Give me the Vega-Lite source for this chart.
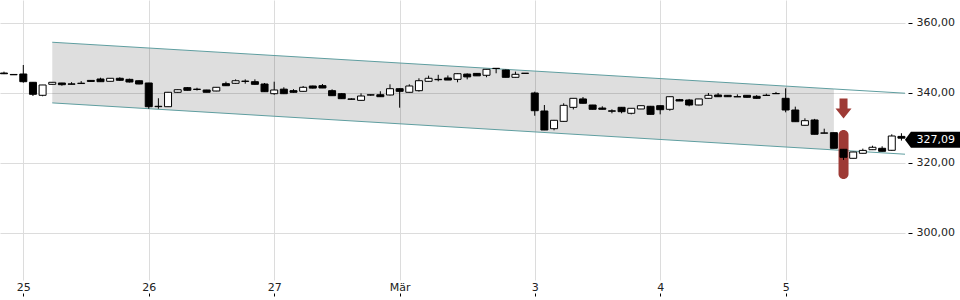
{
  "$schema": "https://vega.github.io/schema/vega-lite/v6.json",
  "width": 905,
  "height": 280,
  "autosize": {"type": "none"},
  "padding": {"left": 0, "top": 0, "right": 55, "bottom": 20},
  "config": {"view": {"stroke": null}, "font": "DejaVu Sans"},
  "datasets": {
    "candles": [
      {"i":0,"o":345.7,"h":346.1,"l":345.4,"c":345.5},
      {"i":1,"o":345.3,"h":345.4,"l":345.2,"c":345.2},
      {"i":2,"o":345.43,"h":348.0,"l":342.94,"c":343.23},
      {"i":3,"o":343.06,"h":343.14,"l":339.14,"c":339.63},
      {"i":4,"o":339.34,"h":342.3,"l":339.06,"c":342.29},
      {"i":5,"o":342.48,"h":343.1,"l":342.4,"c":343.06},
      {"i":6,"o":342.86,"h":342.9,"l":342.08,"c":342.37},
      {"i":7,"o":342.6,"h":343.1,"l":342.5,"c":342.5},
      {"i":8,"o":342.7,"h":343.4,"l":342.7,"c":342.8},
      {"i":9,"o":343.6,"h":343.6,"l":343.2,"c":343.3},
      {"i":10,"o":344.0,"h":344.37,"l":343.2,"c":343.23},
      {"i":11,"o":343.34,"h":344.2,"l":343.3,"c":344.2},
      {"i":12,"o":344.2,"h":344.48,"l":343.43,"c":343.63},
      {"i":13,"o":343.9,"h":344.1,"l":343.0,"c":343.14},
      {"i":14,"o":343.5,"h":343.6,"l":342.5,"c":342.57},
      {"i":15,"o":342.86,"h":342.9,"l":335.5,"c":336.08},
      {"i":16,"o":336.1,"h":338.5,"l":335.5,"c":336.2},
      {"i":17,"o":336.08,"h":340.3,"l":336.0,"c":340.2},
      {"i":18,"o":340.2,"h":341.0,"l":340.1,"c":340.94},
      {"i":19,"o":341.52,"h":341.7,"l":340.7,"c":340.77},
      {"i":20,"o":341.0,"h":341.5,"l":340.7,"c":341.1},
      {"i":21,"o":340.86,"h":340.9,"l":340.2,"c":340.2},
      {"i":22,"o":340.57,"h":341.7,"l":340.5,"c":341.63},
      {"i":23,"o":342.66,"h":343.23,"l":342.0,"c":342.08},
      {"i":24,"o":342.77,"h":343.9,"l":342.6,"c":343.5},
      {"i":25,"o":343.3,"h":343.9,"l":342.66,"c":343.4},
      {"i":26,"o":343.23,"h":343.9,"l":342.4,"c":342.48},
      {"i":27,"o":342.57,"h":342.86,"l":340.3,"c":340.37},
      {"i":28,"o":339.8,"h":343.23,"l":339.5,"c":340.86},
      {"i":29,"o":341.1,"h":341.63,"l":339.7,"c":339.8},
      {"i":30,"o":340.66,"h":341.1,"l":340.1,"c":340.2},
      {"i":31,"o":340.48,"h":342.0,"l":340.4,"c":341.63},
      {"i":32,"o":342.0,"h":342.1,"l":341.3,"c":341.4},
      {"i":33,"o":342.1,"h":342.57,"l":341.4,"c":341.43},
      {"i":34,"o":340.66,"h":341.05,"l":339.2,"c":339.23},
      {"i":35,"o":339.8,"h":340.0,"l":338.3,"c":338.37},
      {"i":36,"o":338.3,"h":338.5,"l":338.1,"c":338.2},
      {"i":37,"o":337.9,"h":339.9,"l":337.8,"c":339.14},
      {"i":38,"o":339.4,"h":339.6,"l":339.2,"c":339.5},
      {"i":39,"o":339.5,"h":340.5,"l":338.9,"c":338.94},
      {"i":40,"o":339.43,"h":342.48,"l":339.3,"c":341.23},
      {"i":41,"o":341.23,"h":341.3,"l":335.8,"c":340.48},
      {"i":42,"o":340.2,"h":342.48,"l":340.1,"c":342.0},
      {"i":43,"o":340.66,"h":344.2,"l":340.4,"c":343.51},
      {"i":44,"o":343.34,"h":344.95,"l":343.3,"c":344.2},
      {"i":45,"o":343.8,"h":345.2,"l":343.34,"c":343.9},
      {"i":46,"o":344.29,"h":345.0,"l":343.7,"c":343.7},
      {"i":47,"o":343.9,"h":345.6,"l":343.06,"c":345.51},
      {"i":48,"o":345.4,"h":345.6,"l":343.9,"c":344.6},
      {"i":49,"o":345.6,"h":345.7,"l":344.9,"c":344.9},
      {"i":50,"o":345.06,"h":346.8,"l":344.5,"c":346.77},
      {"i":51,"o":347.0,"h":347.05,"l":345.63,"c":347.05},
      {"i":52,"o":346.57,"h":346.7,"l":344.48,"c":344.48},
      {"i":53,"o":344.48,"h":346.1,"l":344.4,"c":345.34},
      {"i":54,"o":345.6,"h":345.7,"l":345.6,"c":345.65},
      {"i":55,"o":340.0,"h":340.37,"l":333.5,"c":334.94},
      {"i":56,"o":334.86,"h":336.57,"l":329.4,"c":329.43},
      {"i":57,"o":329.8,"h":332.3,"l":329.34,"c":332.2},
      {"i":58,"o":331.9,"h":337.06,"l":331.8,"c":336.48},
      {"i":59,"o":335.9,"h":338.5,"l":335.3,"c":338.48},
      {"i":60,"o":338.3,"h":338.86,"l":337.0,"c":337.06},
      {"i":61,"o":336.57,"h":336.6,"l":335.3,"c":335.34},
      {"i":62,"o":335.7,"h":336.2,"l":335.3,"c":335.34},
      {"i":63,"o":334.9,"h":335.34,"l":334.2,"c":334.8},
      {"i":64,"o":335.91,"h":336.0,"l":334.2,"c":334.66},
      {"i":65,"o":334.2,"h":335.7,"l":333.9,"c":335.63},
      {"i":66,"o":335.43,"h":336.4,"l":335.4,"c":336.37},
      {"i":67,"o":336.2,"h":336.3,"l":333.9,"c":333.9},
      {"i":68,"o":336.37,"h":336.4,"l":333.9,"c":335.23},
      {"i":69,"o":335.34,"h":339.0,"l":334.94,"c":338.94},
      {"i":70,"o":338.1,"h":338.3,"l":337.7,"c":337.71},
      {"i":71,"o":338.0,"h":338.3,"l":336.2,"c":336.57},
      {"i":72,"o":336.57,"h":338.3,"l":336.5,"c":338.3},
      {"i":73,"o":338.48,"h":340.0,"l":338.4,"c":339.34},
      {"i":74,"o":339.43,"h":340.0,"l":338.9,"c":338.94},
      {"i":75,"o":339.34,"h":339.4,"l":338.9,"c":338.94},
      {"i":76,"o":338.9,"h":339.6,"l":338.9,"c":338.95},
      {"i":77,"o":339.34,"h":339.4,"l":338.7,"c":338.77},
      {"i":78,"o":339.05,"h":339.4,"l":338.4,"c":338.48},
      {"i":79,"o":339.3,"h":339.8,"l":339.3,"c":339.35},
      {"i":80,"o":339.8,"h":340.3,"l":339.8,"c":339.85},
      {"i":81,"o":338.48,"h":341.34,"l":334.48,"c":335.14},
      {"i":82,"o":335.14,"h":336.1,"l":331.8,"c":331.8},
      {"i":83,"o":330.77,"h":332.77,"l":330.7,"c":332.09},
      {"i":84,"o":332.29,"h":332.6,"l":328.2,"c":328.2},
      {"i":85,"o":328.5,"h":329.8,"l":328.5,"c":328.6},
      {"i":86,"o":328.66,"h":328.7,"l":324.2,"c":324.2},
      {"i":87,"o":323.91,"h":324.0,"l":320.86,"c":321.63},
      {"i":88,"o":321.34,"h":323.2,"l":321.3,"c":323.14},
      {"i":89,"o":322.77,"h":324.1,"l":322.7,"c":323.6},
      {"i":90,"o":323.8,"h":324.94,"l":323.7,"c":324.49},
      {"i":91,"o":324.2,"h":324.77,"l":323.3,"c":323.34},
      {"i":92,"o":323.63,"h":328.2,"l":323.5,"c":327.71},
      {"i":93,"o":327.6,"h":328.5,"l":326.4,"c":327.09}
    ],
    "channel": [
      {"i":5,"upper":354.5,"lower":337.17},
      {"i":86,"upper":341.15,"lower":323.74},
      {"i":93.37,"upper":339.94,"lower":322.51}
    ],
    "marker": [
      {"i":87,"top":329.4,"bottom":315.4,"arrow":335.6}
    ],
    "last": [
      {"i":93,"v":327.09,"label":"327,09"}
    ]
  },
  "encoding": {
    "x": {
      "field": "i",
      "type": "quantitative",
      "scale": {"domain": [-0.4145, 93.37], "nice": false, "zero": false, "padding": 0},
      "axis": {
        "values": [2, 15, 28, 41, 55, 68, 81],
        "labelExpr": "datum.value==2?'25':datum.value==15?'26':datum.value==28?'27':datum.value==41?'Mär':datum.value==55?'3':datum.value==68?'4':'5'",
        "title": null,
        "domain": false,
        "grid": true,
        "gridColor": "#dcdcdc",
        "offset": 13,
        "tickSize": 3,
        "tickColor": "#000",
        "labelPadding": -6,
        "labelBaseline": "alphabetic",
        "labelFontSize": 11,
        "labelColor": "#222",
        "labelFlush": false,
        "labelOverlap": false
      }
    }
  },
  "layer": [
    {
      "data": {"name": "channel"},
      "transform": [{"filter": "datum.i <= 86"}],
      "mark": {"type": "area", "color": "#000", "opacity": 0.13},
      "encoding": {
        "y": {
          "field": "upper", "type": "quantitative",
          "scale": {"domain": [286.57, 366.57], "nice": false, "zero": false},
          "axis": {
            "orient": "right",
            "values": [300, 320, 340, 360],
            "labelExpr": "replace(format(datum.value, '.2f'), '.', ',')",
            "title": null,
            "domain": false,
            "grid": true,
            "gridColor": "#dcdcdc",
            "offset": 3,
            "tickSize": 4,
            "tickColor": "#000",
            "labelPadding": 4,
            "labelFontSize": 11,
            "labelColor": "#222"
          }
        },
        "y2": {"field": "lower"}
      }
    },
    {
      "data": {"name": "channel"},
      "mark": {"type": "line", "color": "#5f9ea0", "strokeWidth": 1},
      "encoding": {
        "y": {"field": "upper", "type": "quantitative", "title": null}
      }
    },
    {
      "data": {"name": "channel"},
      "mark": {"type": "line", "color": "#5f9ea0", "strokeWidth": 1},
      "encoding": {
        "y": {"field": "lower", "type": "quantitative", "title": null}
      }
    },
    {
      "data": {"name": "marker"},
      "mark": {"type": "bar", "width": 10, "cornerRadius": 5, "color": "#9e3a35"},
      "encoding": {
        "y": {"field": "top", "type": "quantitative", "title": null},
        "y2": {"field": "bottom"}
      }
    },
    {
      "data": {"name": "marker"},
      "mark": {"type": "point", "shape": "M-0.4,-1L0.4,-1L0.4,0L0.8,0L0,1L-0.8,0L-0.4,0Z", "size": 400, "filled": true, "color": "#9e3a35", "opacity": 1},
      "encoding": {
        "y": {"field": "arrow", "type": "quantitative", "title": null}
      }
    },
    {
      "data": {"name": "candles"},
      "mark": {"type": "rule", "color": "#000", "strokeWidth": 1},
      "encoding": {
        "y": {"field": "l", "type": "quantitative", "title": null},
        "y2": {"field": "h"}
      }
    },
    {
      "data": {"name": "candles"},
      "mark": {"type": "bar", "width": 7, "stroke": "#000", "strokeWidth": 1},
      "encoding": {
        "y": {"field": "o", "type": "quantitative", "title": null},
        "y2": {"field": "c"},
        "fill": {"condition": {"test": "datum.c < datum.o", "value": "#000"}, "value": "#fff"}
      }
    },
    {
      "data": {"name": "last"},
      "mark": {"type": "point", "shape": "M0,0L0.75,-1L7,-1L7,1L0.75,1Z", "size": 256, "filled": true, "color": "#000", "opacity": 1, "xOffset": 3.5, "yOffset": 1.5},
      "encoding": {
        "y": {"field": "v", "type": "quantitative", "title": null}
      }
    },
    {
      "data": {"name": "last"},
      "mark": {"type": "text", "color": "#fff", "fontSize": 11, "align": "left", "baseline": "middle", "dx": 15, "dy": 1.5},
      "encoding": {
        "y": {"field": "v", "type": "quantitative", "title": null},
        "text": {"field": "label"}
      }
    }
  ]
}
